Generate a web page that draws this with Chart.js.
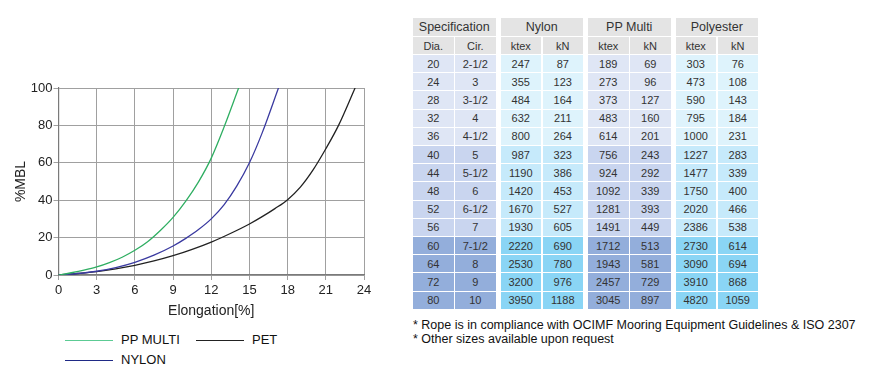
<!DOCTYPE html>
<html>
<head>
<meta charset="utf-8">
<script src="https://cdn.jsdelivr.net/npm/chart.js@4.4.0/dist/chart.umd.min.js"></script>
<style>
  html, body { margin: 0; padding: 0; background: #fff; }
  body { width: 870px; height: 386px; position: relative; overflow: hidden; font-family: "Liberation Sans", Arial, sans-serif; color: #333; }
  #chartWrap { position: absolute; left: 0; top: 0; width: 400px; height: 330px; }
  .leg { position: absolute; font-size: 13px; color: #111; line-height: 16px; }
  .legLine { position: absolute; height: 0; border-top: 1.3px solid; width: 48px; }
  .cell { position: absolute; display: flex; align-items: center; justify-content: center; font-size: 11px; color: #333; }
  .note { position: absolute; left: 413px; font-size: 12.5px; color: #111; white-space: nowrap; }
</style>
</head>
<body>
<div id="chartWrap"><canvas id="c" width="400" height="330"></canvas></div>
<div id="legend"></div>
<div id="table"></div>
<div class="note" style="top:318px">* Rope is in compliance with OCIMF Mooring Equipment Guidelines &amp; ISO 2307</div>
<div class="note" style="top:332px">* Other sizes available upon request</div>
<script>
// ---- chart data ----
const seriesNames = ["PP MULTI", "NYLON", "PET"];
const ppElong   = [0, 1, 2, 3, 4, 5, 6, 7, 8, 9, 10, 11, 12, 13, 14.15];
const ppLoad    = [0, 1.2, 2.6, 4.3, 6.6, 9.5, 13.2, 17.8, 23.8, 30.8, 39.5, 49.8, 62.5, 79, 100];
const nyElong   = [0, 1.5, 3, 4.5, 6, 7.5, 9, 10, 11, 12, 13, 14, 15, 16, 17.28];
const nyLoad    = [0, 0.8, 2.0, 4.0, 6.8, 10.6, 15.5, 19.6, 24.3, 30, 37.5, 47.5, 60, 76, 100];
const petElong  = [0, 1.5, 3, 4.5, 6, 7.5, 9, 10.5, 12, 13.5, 15, 16, 17, 18, 19, 20, 21, 22, 23.3];
const petLoad   = [0, 0.8, 1.8, 3.3, 5.2, 7.5, 10.3, 13.7, 17.6, 22.2, 27.3, 31.2, 35.5, 40.3, 47, 56.2, 67.5, 80, 100];
const xTicks = [0, 3, 6, 9, 12, 15, 18, 21, 24];
const yTicks = [0, 20, 40, 60, 80, 100];

// ---- table data ----
const groupHeaders = ["Specification", "Nylon", "PP Multi", "Polyester"];
const subHeaders = ["Dia.", "Cir.", "ktex", "kN", "ktex", "kN", "ktex", "kN"];
const dia = ["20","24","28","32","36","40","44","48","52","56","60","64","72","80"];
const cir = ["2-1/2","3","3-1/2","4","4-1/2","5","5-1/2","6","6-1/2","7","7-1/2","8","9","10"];
const nylonKtex = [247,355,484,632,800,987,1190,1420,1670,1930,2220,2530,3200,3950];
const nylonKN   = [87,123,164,211,264,323,386,453,527,605,690,780,976,1188];
const ppKtex    = [189,273,373,483,614,756,924,1092,1281,1491,1712,1943,2457,3045];
const ppKN      = [69,96,127,160,201,243,292,339,393,449,513,581,729,897];
const pesKtex   = [303,473,590,795,1000,1227,1477,1750,2020,2386,2730,3090,3910,4820];
const pesKN     = [76,108,143,184,231,283,339,400,466,538,614,694,868,1059];

const colors = ["#2fae62", "#3a3aa0", "#222222"];
const legendColors = ["#5ccb94", "#1f2a86", "#222222"];

function pts(xs, ys) { return xs.map((x, i) => ({ x: x, y: ys[i] })); }

const font = { family: "'Liberation Sans', Arial, sans-serif", size: 13 };
new Chart(document.getElementById('c'), {
  type: 'line',
  data: {
    datasets: [
      { label: seriesNames[0], data: pts(ppElong, ppLoad), borderColor: colors[0] },
      { label: seriesNames[1], data: pts(nyElong, nyLoad), borderColor: colors[1] },
      { label: seriesNames[2], data: pts(petElong, petLoad), borderColor: colors[2] }
    ].map(d => Object.assign(d, { borderWidth: 1.3, pointRadius: 0, fill: false, cubicInterpolationMode: 'monotone' }))
  },
  options: {
    responsive: false,
    devicePixelRatio: 1,
    animation: false,
    layout: { padding: { top: 88, right: 36, left: 0, bottom: 0 } },
    plugins: { legend: { display: false }, tooltip: { enabled: false } },
    scales: {
      x: {
        type: 'linear', min: 0, max: 24,
        afterBuildTicks: s => { s.ticks = xTicks.map(v => ({ value: v })); },
        afterFit: s => { s.height = 55; },
        ticks: { font: font, color: '#222', padding: 3, maxRotation: 0 },
        grid: { color: '#a0a0a0', lineWidth: 1, tickLength: 5, tickColor: '#a0a0a0' },
        border: { color: '#7a7a7a', width: 1.2 },
        title: { display: true, text: 'Elongation[%]', font: { family: font.family, size: 14 }, color: '#222', padding: { top: 0, bottom: 10.5 } }
      },
      y: {
        type: 'linear', min: 0, max: 100,
        afterBuildTicks: s => { s.ticks = yTicks.map(v => ({ value: v })); },
        afterFit: s => { s.width = 58.5; },
        ticks: { font: font, color: '#222', padding: 1 },
        grid: { color: '#a0a0a0', lineWidth: 1, tickLength: 5, tickColor: '#a0a0a0' },
        border: { color: '#7a7a7a', width: 1.2 },
        title: { display: true, text: '%MBL', font: { family: font.family, size: 14 }, color: '#222', padding: { top: 12.5, bottom: 0 } }
      }
    }
  }
});

// ---- legend (HTML) ----
const legendPos = [ { x: 65, y: 340 }, { x: 65, y: 360 }, { x: 196, y: 340 } ];
const legEl = document.getElementById('legend');
seriesNames.forEach((n, i) => {
  const p = legendPos[i];
  const l = document.createElement('div');
  l.className = 'legLine';
  l.style.left = p.x + 'px'; l.style.top = (p.y - 0.5) + 'px'; l.style.borderTopColor = legendColors[i];
  legEl.appendChild(l);
  const t = document.createElement('div');
  t.className = 'leg'; t.textContent = n;
  t.style.left = (p.x + 56) + 'px'; t.style.top = (p.y - 8) + 'px';
  legEl.appendChild(t);
});

// ---- table (HTML) ----
const tbl = document.getElementById('table');
const colW = 40.5, sepW = 1.5, groupGap = 5, left0 = 413;
function colX(c) { const g = Math.floor(c / 2), k = c % 2; return left0 + g * (2 * colW + sepW + groupGap) + k * (colW + sepW); }
function cell(x, y, w, h, bg, txt, fs) {
  const d = document.createElement('div');
  d.className = 'cell';
  d.style.left = x + 'px'; d.style.top = y + 'px'; d.style.width = w + 'px'; d.style.height = h + 'px';
  d.style.background = bg; d.textContent = txt;
  if (fs) d.style.fontSize = fs + 'px';
  tbl.appendChild(d);
}
const headBg = '#e4e4e4';
groupHeaders.forEach((g, i) => cell(colX(2 * i), 18, 2 * colW + sepW, 18, headBg, g, 12.5));
subHeaders.forEach((s, c) => cell(colX(c), 37, colW, 17, headBg, s, 11));
const cols = [dia, cir, nylonKtex, nylonKN, ppKtex, ppKN, pesKtex, pesKN];
const bgA = ['#dfe6f5', '#c9d5ef', '#93aedb'];
const bgB = ['#def3fc', '#c6eafb', '#8ad5f5'];
const pitch = 18.2;
for (let r = 0; r < dia.length; r++) {
  const band = r < 5 ? 0 : (r < 10 ? 1 : 2);
  cols.forEach((col, c) => {
    const g = Math.floor(c / 2);
    const bg = (g === 0 || g === 2) ? bgA[band] : bgB[band];
    cell(colX(c), 55 + r * pitch, colW, pitch - 1, bg, String(col[r]));
  });
}
</script>
</body>
</html>
